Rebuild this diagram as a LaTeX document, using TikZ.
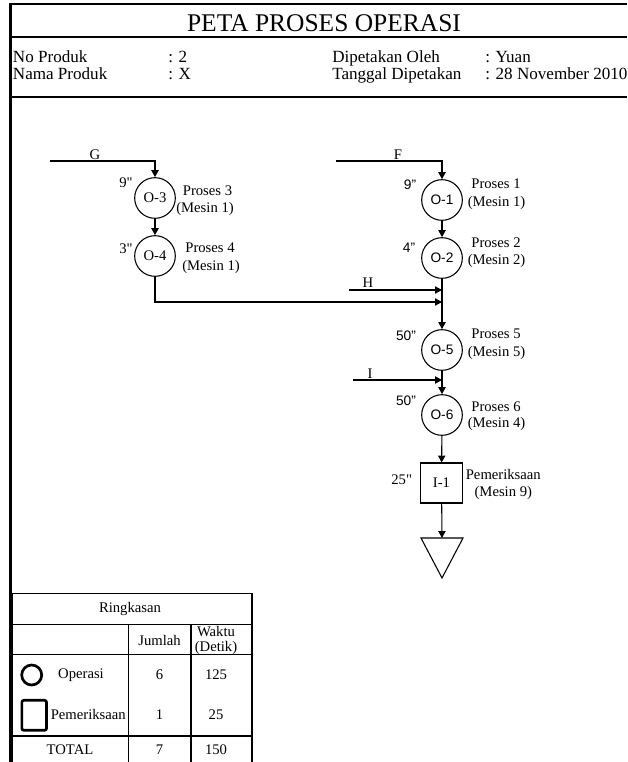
\documentclass[tikz,border=0pt]{standalone}
\usepackage{fontspec}
\setmainfont{Liberation Serif}
\setsansfont{Liberation Sans}
\newfontfamily\ppnq{Liberation Serif}[Ligatures=TeXOff]
\usetikzlibrary{arrows.meta}
\newcommand\ppTitle{\fontsize{19.1}{22}\selectfont}
\newcommand\ppInfo{\fontsize{12.8}{15}\selectfont}
\newcommand\ppLbl{\fontsize{11}{13}\selectfont}
\newcommand\ppSans{\sffamily\fontsize{10.3}{12}\selectfont}
\newcommand\ppq{{\ppnq"}}
\begin{document}
\begin{tikzpicture}[x=0.75pt,y=-0.75pt,
  frameline/.style={line width=2.2pt},
  flow/.style={line width=0.8pt},
  arr/.style={flow,-{Triangle[length=5.2pt,width=5.5pt]}},
  opc/.style={circle,draw,line width=0.8pt,minimum size=30.5pt,inner sep=0pt},
  insp/.style={rectangle,draw,line width=0.8pt,minimum width=31.2pt,minimum height=30pt,inner sep=0pt},
  lbl/.style={font=\ppLbl,inner sep=0pt},
  slbl/.style={font=\ppSans,inner sep=0pt},
  info/.style={font=\ppInfo,inner sep=0pt,anchor=base west},
  tab/.style={line width=1.2pt},
  icon/.style={draw,line width=2pt,inner sep=0pt}
]
\useasboundingbox (0,0) rectangle (627,762);
% frame
\draw[frameline] (10.5,762) -- (10.5,4) -- (627,4);
\draw[frameline] (10.5,37) -- (627,37);
\draw[frameline] (10.5,97) -- (627,97);
% title and info
\node[font=\ppTitle,inner sep=0pt,anchor=base] (title) at (324,32) {PETA PROSES OPERASI};
\node[info] (np) at (12.7,63) {No Produk};
\node[info] (npv) at (168,63) {: 2};
\node[info] (nm) at (12.7,80) {Nama Produk};
\node[info] (nmv) at (168,80) {: X};
\node[info] (dp) at (332,63) {Dipetakan Oleh};
\node[info] (dpv) at (485,63) {: Yuan};
\node[info] (tg) at (332,80) {Tanggal Dipetakan};
\node[info] (tgv) at (485,80) {: 28 November 2010};

% left branch
\node[opc,font=\ppLbl] (O3) at (155,198) {O-3};
\node[opc,font=\ppLbl] (O4) at (155,256) {O-4};
% right branch
\node[opc,font=\ppSans] (O1) at (442,200) {O-1};
\node[opc,font=\ppSans] (O2) at (442,258) {O-2};
\node[opc,font=\ppSans] (O5) at (442,350) {O-5};
\node[opc,font=\ppSans] (O6) at (442,415) {O-6};
\node[insp,font=\ppLbl] (I1) at (441.5,483) {I-1};
\coordinate (tri) at (442,538);
\draw[flow] (421,538) -- (463,538) -- (442,578) -- cycle;

% input lines
\coordinate (gs) at (50,161);
\coordinate (gc) at (155,161);
\coordinate (fs) at (336,161);
\coordinate (fc) at (442,161);
\coordinate (hs) at (349,290);
\coordinate (he) at (442,290);
\coordinate (mj) at (442,302);
\coordinate (is) at (353,380);
\coordinate (ie) at (442,380);
\draw[arr] (gs) -- (gc) -- (O3);
\draw[arr] (fs) -- (fc) -- (O1);
\draw[arr] (O3) -- (O4);
\draw[arr] (O1) -- (O2);
\draw[arr] (O2) -- (O5);
\draw[arr] (hs) -- (he);
\draw[arr] (O4) |- (mj);
\draw[arr] (O5) -- (O6);
\draw[arr] (is) -- (ie);
\draw[arr] (O6) -- (I1);
\draw[arr] (I1) -- (tri);

% letters
\node[lbl,anchor=base] (lG) at (95,159.5) {G};
\node[lbl,anchor=base] (lF) at (398,159.5) {F};
\node[lbl,anchor=base] (lH) at (368,288) {H};
\node[lbl,anchor=base] (lI) at (370,378) {I};

% times and descriptions
\node[lbl] (t3) at (126,183) {9\ppq};
\node[lbl] (p3a) at (207.5,191) {Proses 3};
\node[lbl] (p3b) at (205,209) {(Mesin 1)};
\node[lbl] (t4) at (126,249) {3\ppq};
\node[lbl] (p4a) at (210,248) {Proses 4};
\node[lbl] (p4b) at (211,267) {(Mesin 1)};
\node[slbl] (t1) at (410,185) {9"};
\node[lbl] (p1a) at (496,184) {Proses 1};
\node[lbl] (p1b) at (496.5,203) {(Mesin 1)};
\node[slbl] (t2) at (409,248) {4"};
\node[lbl] (p2a) at (496,243) {Proses 2};
\node[lbl] (p2b) at (496.5,261) {(Mesin 2)};
\node[slbl] (t5) at (406,336) {50"};
\node[lbl] (p5a) at (496,334) {Proses 5};
\node[lbl] (p5b) at (496.5,353) {(Mesin 5)};
\node[slbl] (t6) at (406,401) {50"};
\node[lbl] (p6a) at (496,407) {Proses 6};
\node[lbl] (p6b) at (496.5,424) {(Mesin 4)};
\node[lbl] (ti) at (401.7,480) {25\ppq};
\node[lbl] (pia) at (503.3,474) {Pemeriksaan};
\node[lbl] (pib) at (503.3,493) {(Mesin 9)};

% summary table
\draw[tab] (12,762) -- (12,593.3) -- (251.7,593.3) -- (251.7,762);
\draw[tab] (12,624.3) -- (251.7,624.3);
\draw[tab] (12,654.3) -- (251.7,654.3);
\draw[tab] (12,735.7) -- (251.7,735.7);
\draw[tab] (128.3,624.3) -- (128.3,762);
\draw[tab] (190.7,624.3) -- (190.7,762);
\node[lbl] (rk) at (130,609) {Ringkasan};
\node[lbl] (hj) at (159.5,640) {Jumlah};
\node[lbl] (hw) at (216,632) {Waktu};
\node[lbl] (hd) at (216,648) {(Detik)};
\node[icon,circle,minimum size=15pt] (icop) at (31.7,675) {};
\node[lbl] (rop) at (81,675) {Operasi};
\node[icon,rectangle,rounded corners=1.5pt,minimum width=18.5pt,minimum height=22.5pt] (icin) at (34.2,715.3) {};
\node[lbl] (rin) at (88.3,714.3) {Pemeriksaan};
\node[lbl] (n6) at (159.5,675) {6};
\node[lbl] (w125) at (216,675) {125};
\node[lbl] (n1) at (159.5,714.3) {1};
\node[lbl] (w25) at (216,714.3) {25};
\node[lbl] (tot) at (70,750) {TOTAL};
\node[lbl] (n7) at (159.5,750) {7};
\node[lbl] (w150) at (216,750) {150};
\end{tikzpicture}
\end{document}
